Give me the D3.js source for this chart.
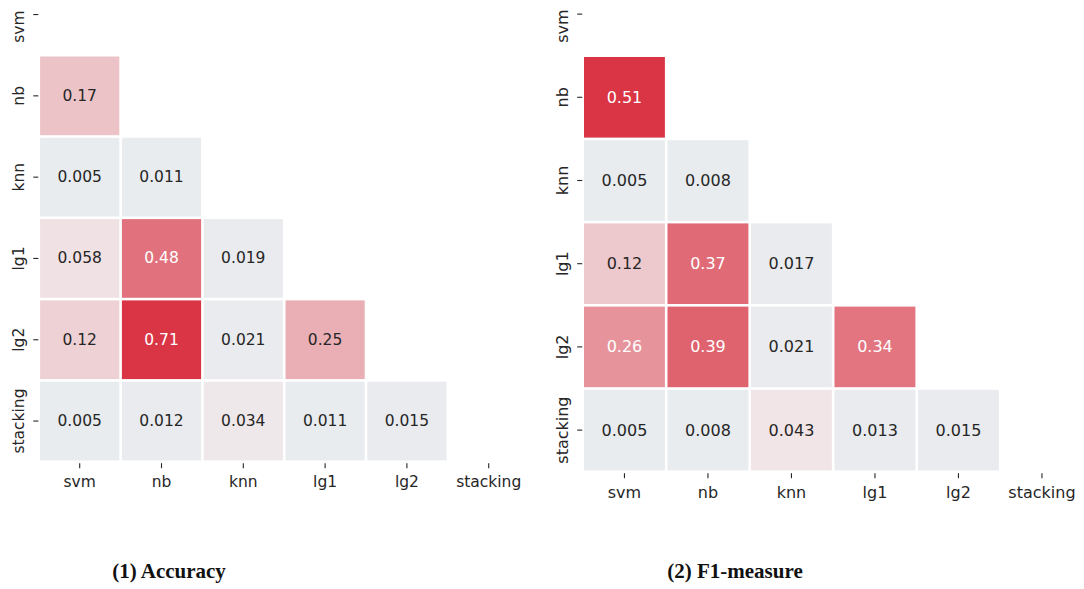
<!DOCTYPE html>
<html>
<head>
<meta charset="utf-8">
<script src="https://cdn.jsdelivr.net/npm/d3@7"></script>
<style>
  body { margin: 0; background: #fff; }
  svg { display: block; }
  .tick text { font-family: "DejaVu Sans", sans-serif; fill: #262626; }
</style>
</head>
<body>
<svg id="chart" width="1084" height="589"></svg>
<script>
// model names, used for both axes
const models = ["svm", "nb", "knn", "lg1", "lg2", "stacking"];

// lower triangle, row by row (row i has i values)
const accuracyRows = [
  [],
  [0.17],
  [0.005, 0.011],
  [0.058, 0.48, 0.019],
  [0.12, 0.71, 0.021, 0.25],
  [0.005, 0.012, 0.034, 0.011, 0.015]
];

const f1Rows = [
  [],
  [0.51],
  [0.005, 0.008],
  [0.12, 0.37, 0.017],
  [0.26, 0.39, 0.021, 0.34],
  [0.005, 0.008, 0.043, 0.013, 0.015]
];

const titles = ["(1) Accuracy", "(2) F1-measure"];

const svg = d3.select("#chart");

function luminance(c) {
  let rgb = d3.rgb(c);
  let f = v => { v = v / 255; return v <= 0.03928 ? v / 12.92 : Math.pow((v + 0.055) / 1.055, 2.4); };
  return 0.2126 * f(rgb.r) + 0.7152 * f(rgb.g) + 0.0722 * f(rgb.b);
}

function drawHeatmap(rows, title, g) {
  // g holds the layout of one panel
  const x = d3.scaleBand().domain(models).range([g.x0, g.x0 + g.cw * models.length]);
  const y = d3.scaleBand().domain(models).range([g.y0, g.y0 + g.ch * models.length]);

  const vmax = d3.max(rows.flat());
  const color = d3.scaleLinear()
    .domain([0, 0.022, 0.04, vmax])
    .range(["#e8ecef", "#eaebee", "#f1e6e8", "#d93545"])
    .clamp(true);

  let cells = [];
  rows.forEach((r, i) => r.forEach((v, j) => cells.push({row: models[i], col: models[j], v: v})));

  const panel = svg.append("g").attr("class", "panel");

  const cell = panel.selectAll("g.cell")
    .data(cells)
  .join("g")
    .attr("class", "cell");

  cell.append("rect")
    .attr("x", d => x(d.col) + 1.3)
    .attr("y", d => y(d.row) + 1.3)
    .attr("width", x.bandwidth() - 2.6)
    .attr("height", y.bandwidth() - 2.6)
    .attr("fill", d => color(d.v));

  cell.append("text")
    .attr("x", d => x(d.col) + x.bandwidth() / 2)
    .attr("y", d => y(d.row) + y.bandwidth() / 2)
    .attr("text-anchor", "middle")
    .attr("dominant-baseline", "central")
    .attr("font-family", "DejaVu Sans, sans-serif")
    .attr("font-size", g.fs)
    .attr("fill", d => luminance(color(d.v)) > 0.408 ? "#262626" : "#ffffff")
    .text(d => d.v);

  const bottom = g.y0 + g.ch * models.length;

  const xAxis = panel.append("g")
    .attr("transform", `translate(0, ${bottom + 1.5})`)
    .call(d3.axisBottom(x).tickSize(5).tickSizeOuter(0));
  xAxis.select(".domain").remove();
  xAxis.selectAll(".tick line").attr("stroke", "#262626").attr("stroke-width", 1.1);
  xAxis.selectAll(".tick text")
    .attr("y", g.xlab)
    .attr("dy", 0)
    .attr("font-size", g.fs);

  const yAxis = panel.append("g")
    .attr("transform", `translate(${g.x0 - 0.5}, 0)`)
    .call(d3.axisLeft(y).tickSize(5).tickSizeOuter(0));
  yAxis.select(".domain").remove();
  yAxis.selectAll(".tick line").attr("stroke", "#262626").attr("stroke-width", 1.1);
  // the top label sits below its tick in the cropped original, so keep it inside the frame
  yAxis.selectAll(".tick text")
    .attr("x", 0)
    .attr("dy", 0)
    .attr("text-anchor", "middle")
    .attr("font-size", g.fs)
    .attr("transform", (d, i) => `translate(${-g.ylab}, ${i == 0 ? 12 : 0}) rotate(-90)`);

  panel.append("text")
    .attr("x", g.tx)
    .attr("y", 578.3)
    .attr("text-anchor", "middle")
    .attr("font-family", "Liberation Serif, serif")
    .attr("font-weight", "bold")
    .attr("font-size", 21)
    .attr("fill", "#111")
    .text(title);
}

drawHeatmap(accuracyRows, titles[0], {x0: 38.8, y0: -26.1, cw: 81.8, ch: 81.3, fs: 15.5, xlab: 24, ylab: 14, tx: 169});
drawHeatmap(f1Rows, titles[1], {x0: 582.7, y0: -27.5, cw: 83.5, ch: 83.2, fs: 16, xlab: 24.5, ylab: 14.5, tx: 735});
</script>
</body>
</html>
